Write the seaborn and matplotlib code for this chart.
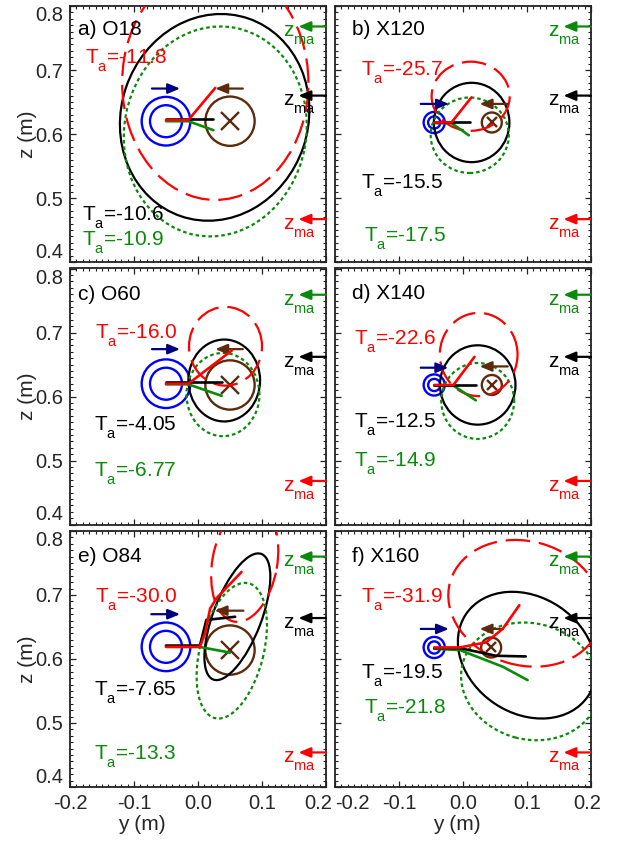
import numpy as np
import pandas as pd
import matplotlib
matplotlib.use("Agg")
import matplotlib.pyplot as plt
from matplotlib.patches import Ellipse, Circle
from matplotlib.ticker import MultipleLocator, FixedLocator, FixedFormatter
from matplotlib.transforms import ScaledTranslation
import seaborn as sns

try:
    import matplotlib._mathtext as _mt
    _mt.FontConstantsBase.sub1 = 0.8
except Exception:
    pass

sns.set_style("ticks")
plt.rcParams['font.family'] = ['Liberation Sans', 'DejaVu Sans']
plt.rcParams['mathtext.default'] = 'regular'
plt.rcParams['axes.unicode_minus'] = False
plt.rcParams['axes.linewidth'] = 1.3
plt.rcParams['axes.edgecolor'] = '#222222'

RED = '#ff0000'; BLACK = '#000000'; GREEN = '#0a8a0a'
BLUE = '#0000ff'; NAVY = '#000080'; BROWN = '#5c2a0c'

# ---------------- data ----------------
panel_labels = ["a) O18", "b) X120", "c) O60", "d) X140", "e) O84", "f) X160"]
ta_red = ["-11.8", "-25.7", "-16.0", "-22.6", "-30.0", "-31.9"]
ta_black = ["-10.6", "-15.5", "-4.05", "-12.5", "-7.65", "-19.5"]
ta_green = ["-10.9", "-17.5", "-6.77", "-14.9", "-13.3", "-21.8"]

# magnetic-axis heights (m)
zma_green = [0.768, 0.768, 0.759, 0.759, 0.760, 0.760]
zma_black = [0.660, 0.660, 0.662, 0.662, 0.664, 0.664]
zma_red = [0.467, 0.467, 0.468, 0.468, 0.454, 0.454]

# flux-surface contours: (centre y, centre z, half-extent y, half-extent z, top-point offset)
black_ell = [(0.026, 0.626, 0.148, 0.1615, 0.010),
             (0.0135, 0.618, 0.059, 0.062, 0.0),
             (0.041, 0.625, 0.056, 0.064, 0.0),
             (0.023, 0.618, 0.059, 0.062, 0.0),
             (0.0615, 0.666, 0.0515, 0.099, 0.0325),
             (0.100, 0.606, 0.108, 0.099, -0.023)]
red_ell = [(0.027, 0.680, 0.1455, 0.183, 0.0),
           (0.012, 0.659, 0.061, 0.054, 0.0),
           (0.043, 0.6785, 0.057, 0.0615, 0.0),
           (0.0245, 0.6656, 0.0607, 0.065, 0.0),
           (0.073, 0.750, 0.0525, 0.092, 0.0114),
           (0.097, 0.687, 0.120, 0.099, -0.015)]
green_ell = [(0.027, 0.604, 0.143, 0.164, 0.008),
             (0.0105, 0.598, 0.061, 0.059, 0.0),
             (0.039, 0.603, 0.057, 0.065, 0.0),
             (0.023, 0.593, 0.057, 0.0594, 0.0),
             (0.0528, 0.613, 0.055, 0.106, 0.0207),
             (0.105, 0.565, 0.108, 0.092, -0.010)]

# beam rays (y, z)
red_rays = [
    [(-0.05, 0.622), (-0.015, 0.622), (0.027, 0.672)],
    [(-0.045, 0.618), (-0.018, 0.618), (0.013, 0.657)],
    [(-0.05, 0.620), (-0.015, 0.620), (0.053, 0.672)],
    [(-0.045, 0.618), (-0.015, 0.618), (0.018, 0.662)],
    [(-0.05, 0.619), (0.003, 0.619), (0.011, 0.640), (0.019, 0.679), (0.029, 0.695), (0.068, 0.736)],
    [(-0.045, 0.618), (-0.005, 0.618), (0.036, 0.626), (0.062, 0.647), (0.088, 0.684)],
]
black_rays = [
    [(-0.05, 0.624), (0.024, 0.624)],
    [(-0.045, 0.619), (0.011, 0.619)],
    [(-0.05, 0.622), (0.037, 0.622)],
    [(-0.045, 0.618), (0.021, 0.618)],
    [(-0.05, 0.621), (0.003, 0.621), (0.013, 0.661), (0.058, 0.666)],
    [(-0.045, 0.617), (-0.005, 0.617), (0.052, 0.605), (0.098, 0.604)],
]
green_rays = [
    [(-0.05, 0.620), (-0.015, 0.620), (0.024, 0.606)],
    [(-0.045, 0.617), (-0.018, 0.617), (0.009, 0.598)],
    [(-0.05, 0.619), (-0.015, 0.619), (0.037, 0.601)],
    [(-0.045, 0.617), (-0.015, 0.617), (0.020, 0.594)],
    [(-0.05, 0.619), (0.002, 0.619), (0.050, 0.610)],
    [(-0.045, 0.616), (-0.005, 0.614), (0.062, 0.588), (0.101, 0.567)],
]

# launcher (blue) and target (brown) positions and radii
launch_y = [-0.05, -0.045, -0.05, -0.045, -0.05, -0.045]
launch_z = [0.620, 0.618, 0.620, 0.618, 0.619, 0.618]
launch_r = [(0.038, 0.025), (0.0165, 0.0095)] * 3
target_y = [0.05, 0.045, 0.05, 0.045, 0.05, 0.044]
target_z = [0.620, 0.618, 0.618, 0.618, 0.614, 0.618]
target_r = [0.0385, 0.0156] * 3

# direction arrows (tail y, head y, z)
blue_arrow = [(-0.072, -0.028, 0.671), (-0.066, -0.022, 0.647), (-0.072, -0.028, 0.674),
              (-0.066, -0.023, 0.645), (-0.073, -0.028, 0.670), (-0.066, -0.022, 0.647)]
brown_arrow = [(0.070, 0.027, 0.671), (0.070, 0.026, 0.647), (0.070, 0.027, 0.674),
               (0.070, 0.026, 0.647), (0.071, 0.026, 0.6755), (0.062, 0.026, 0.647)]

xtick_vals = [-0.2, -0.1, 0.0, 0.1, 0.2]
xtick_labels = ["-0.2", "-0.1", "0.0", "0.1", "0.2"]
ytick_vals = [0.4, 0.5, 0.6, 0.7, 0.8]
ytick_labels = ["0.4", "0.5", "0.6", "0.7", "0.8"]

# ---------------- layout ----------------
label_pos = [(-0.187, 0.755), (-0.173, 0.755), (-0.187, 0.750), (-0.173, 0.753), (-0.187, 0.752), (-0.173, 0.751)]
red_txt_pos = [(-0.177, 0.7105), (-0.160, 0.692), (-0.161, 0.6916), (-0.170, 0.681), (-0.161, 0.688), (-0.160, 0.6895)]
blk_txt_pos = [(-0.182, 0.4656), (-0.160, 0.515), (-0.162, 0.547), (-0.171, 0.5525), (-0.162, 0.543), (-0.160, 0.570)]
grn_txt_pos = [(-0.182, 0.4266), (-0.154, 0.433), (-0.162, 0.4754), (-0.171, 0.491), (-0.162, 0.443), (-0.154, 0.516)]

FS = 15
W, H = 625, 843


def ell_params(hx, hy, off):
    P = off * hy
    Q = hy * hy - hx * hx
    D = np.hypot(2 * P, Q)
    theta = 0.5 * np.degrees(np.arctan2(2 * P, -Q)) if D > 0 else 0.0
    a = np.sqrt((hx * hx + hy * hy + D) / 2)
    b = np.sqrt(max((hx * hx + hy * hy - D) / 2, 0))
    return 2 * a, 2 * b, theta


def arrow(ax, x0, x1, y, color):
    ax.annotate('', xy=(x1, y), xytext=(x0, y), xycoords='data',
                arrowprops=dict(arrowstyle='-|>,head_length=0.6,head_width=0.25',
                                mutation_scale=12, color=color, lw=1.6,
                                shrinkA=0, shrinkB=0), annotation_clip=False)


fig = plt.figure(figsize=(W / 100, H / 100), dpi=100)
lefts = [70 / W, 335 / W]
bottoms_px = [262, 524.5, 787]

for i in range(6):
    r, c = divmod(i, 2)
    ax = fig.add_axes([lefts[c], 1 - bottoms_px[r] / H, 256 / W, 256 / H])
    ax.set_xlim(-0.2, 0.2)
    ax.set_ylim(0.4, 0.8)

    # contours
    for ell, col, ls in [(black_ell[i], BLACK, '-'), (green_ell[i], GREEN, (0, (1.6, 1.3))),
                         (red_ell[i], RED, (0, (11, 4)))]:
        cx, cy, hx, hy, off = ell
        w, h, ang = ell_params(hx, hy, off)
        ax.add_patch(Ellipse((cx, cy), w, h, angle=ang, fill=False, ec=col, lw=1.6, ls=ls, zorder=3))

    # launcher circles
    for rr in launch_r[i]:
        ax.add_patch(Circle((launch_y[i], launch_z[i]), rr, fill=False, ec=BLUE, lw=1.7, zorder=2))
    # target circle with cross
    ax.add_patch(Circle((target_y[i], target_z[i]), target_r[i], fill=False, ec=BROWN, lw=1.7, zorder=2))
    ms = 13 if c == 0 else 7
    ax.plot([target_y[i]], [target_z[i]], marker='x', ms=ms, mew=1.7, color=BROWN, zorder=2)

    # rays
    for rays, col in [(green_rays, GREEN), (black_rays, BLACK), (red_rays, RED)]:
        df = pd.DataFrame(rays[i], columns=['y', 'z'])
        sns.lineplot(data=df, x='y', y='z', sort=False, estimator=None, color=col,
                     lw=1.9, ax=ax, legend=False, zorder=4)

    # arrows
    bx0, bx1, by = blue_arrow[i]
    arrow(ax, bx0, bx1, by, NAVY)
    rx0, rx1, ry = brown_arrow[i]
    arrow(ax, rx0, rx1, ry, BROWN)

    # z_ma markers
    for zv, col in [(zma_green[i], GREEN), (zma_black[i], BLACK), (zma_red[i], RED)]:
        arrow(ax, 0.2, 0.157, zv, col)
        ax.text(0.133, zv - 0.0156, r'$z_{ma}$', color=col, fontsize=FS, ha='left', va='baseline')

    # texts
    ax.text(*label_pos[i], panel_labels[i], fontsize=FS, color=BLACK, ha='left', va='baseline')
    ax.text(*red_txt_pos[i], r'$T_a$=' + ta_red[i], fontsize=FS, color=RED, ha='left', va='baseline')
    ax.text(*blk_txt_pos[i], r'$T_a$=' + ta_black[i], fontsize=FS, color=BLACK, ha='left', va='baseline')
    ax.text(*grn_txt_pos[i], r'$T_a$=' + ta_green[i], fontsize=FS, color=GREEN, ha='left', va='baseline')

    # ticks
    ax.xaxis.set_major_locator(FixedLocator(xtick_vals))
    ax.xaxis.set_major_formatter(FixedFormatter(xtick_labels))
    ax.yaxis.set_major_locator(FixedLocator(ytick_vals))
    ax.yaxis.set_major_formatter(FixedFormatter(ytick_labels))
    ax.xaxis.set_minor_locator(MultipleLocator(0.01))
    ax.yaxis.set_minor_locator(MultipleLocator(0.01))
    ax.tick_params(which='both', direction='in', top=True, right=True, color='#222222')
    ax.tick_params(which='major', length=4, width=0.9, labelsize=14.5, pad=5)
    ax.tick_params(which='minor', length=2, width=0.8)
    ax.tick_params(labelleft=(c == 0), labelbottom=(r == 2))
    ax.set_xlabel('')
    ax.set_ylabel('')
    if c == 0:
        ax.set_ylabel('z (m)', fontsize=15)
        ax.yaxis.set_label_coords(-0.13, 0.5)
        yt = ax.yaxis.get_major_ticks()
        yt[0].label1.set_va('bottom')
        yt[-1].label1.set_va('top')
    if r == 2:
        ax.set_xlabel('y (m)', fontsize=15)
        ax.xaxis.set_label_coords(0.28 if c == 0 else 0.477, -0.109)
        xt = ax.xaxis.get_major_ticks()
        shift = -8 if c == 0 else -4
        lab = xt[-1].label1
        lab.set_transform(lab.get_transform() + ScaledTranslation(shift / 100, 0, fig.dpi_scale_trans))
        if c == 1:
            xt[0].label1.set_ha('left')

fig.savefig('out.png', dpi=100)
